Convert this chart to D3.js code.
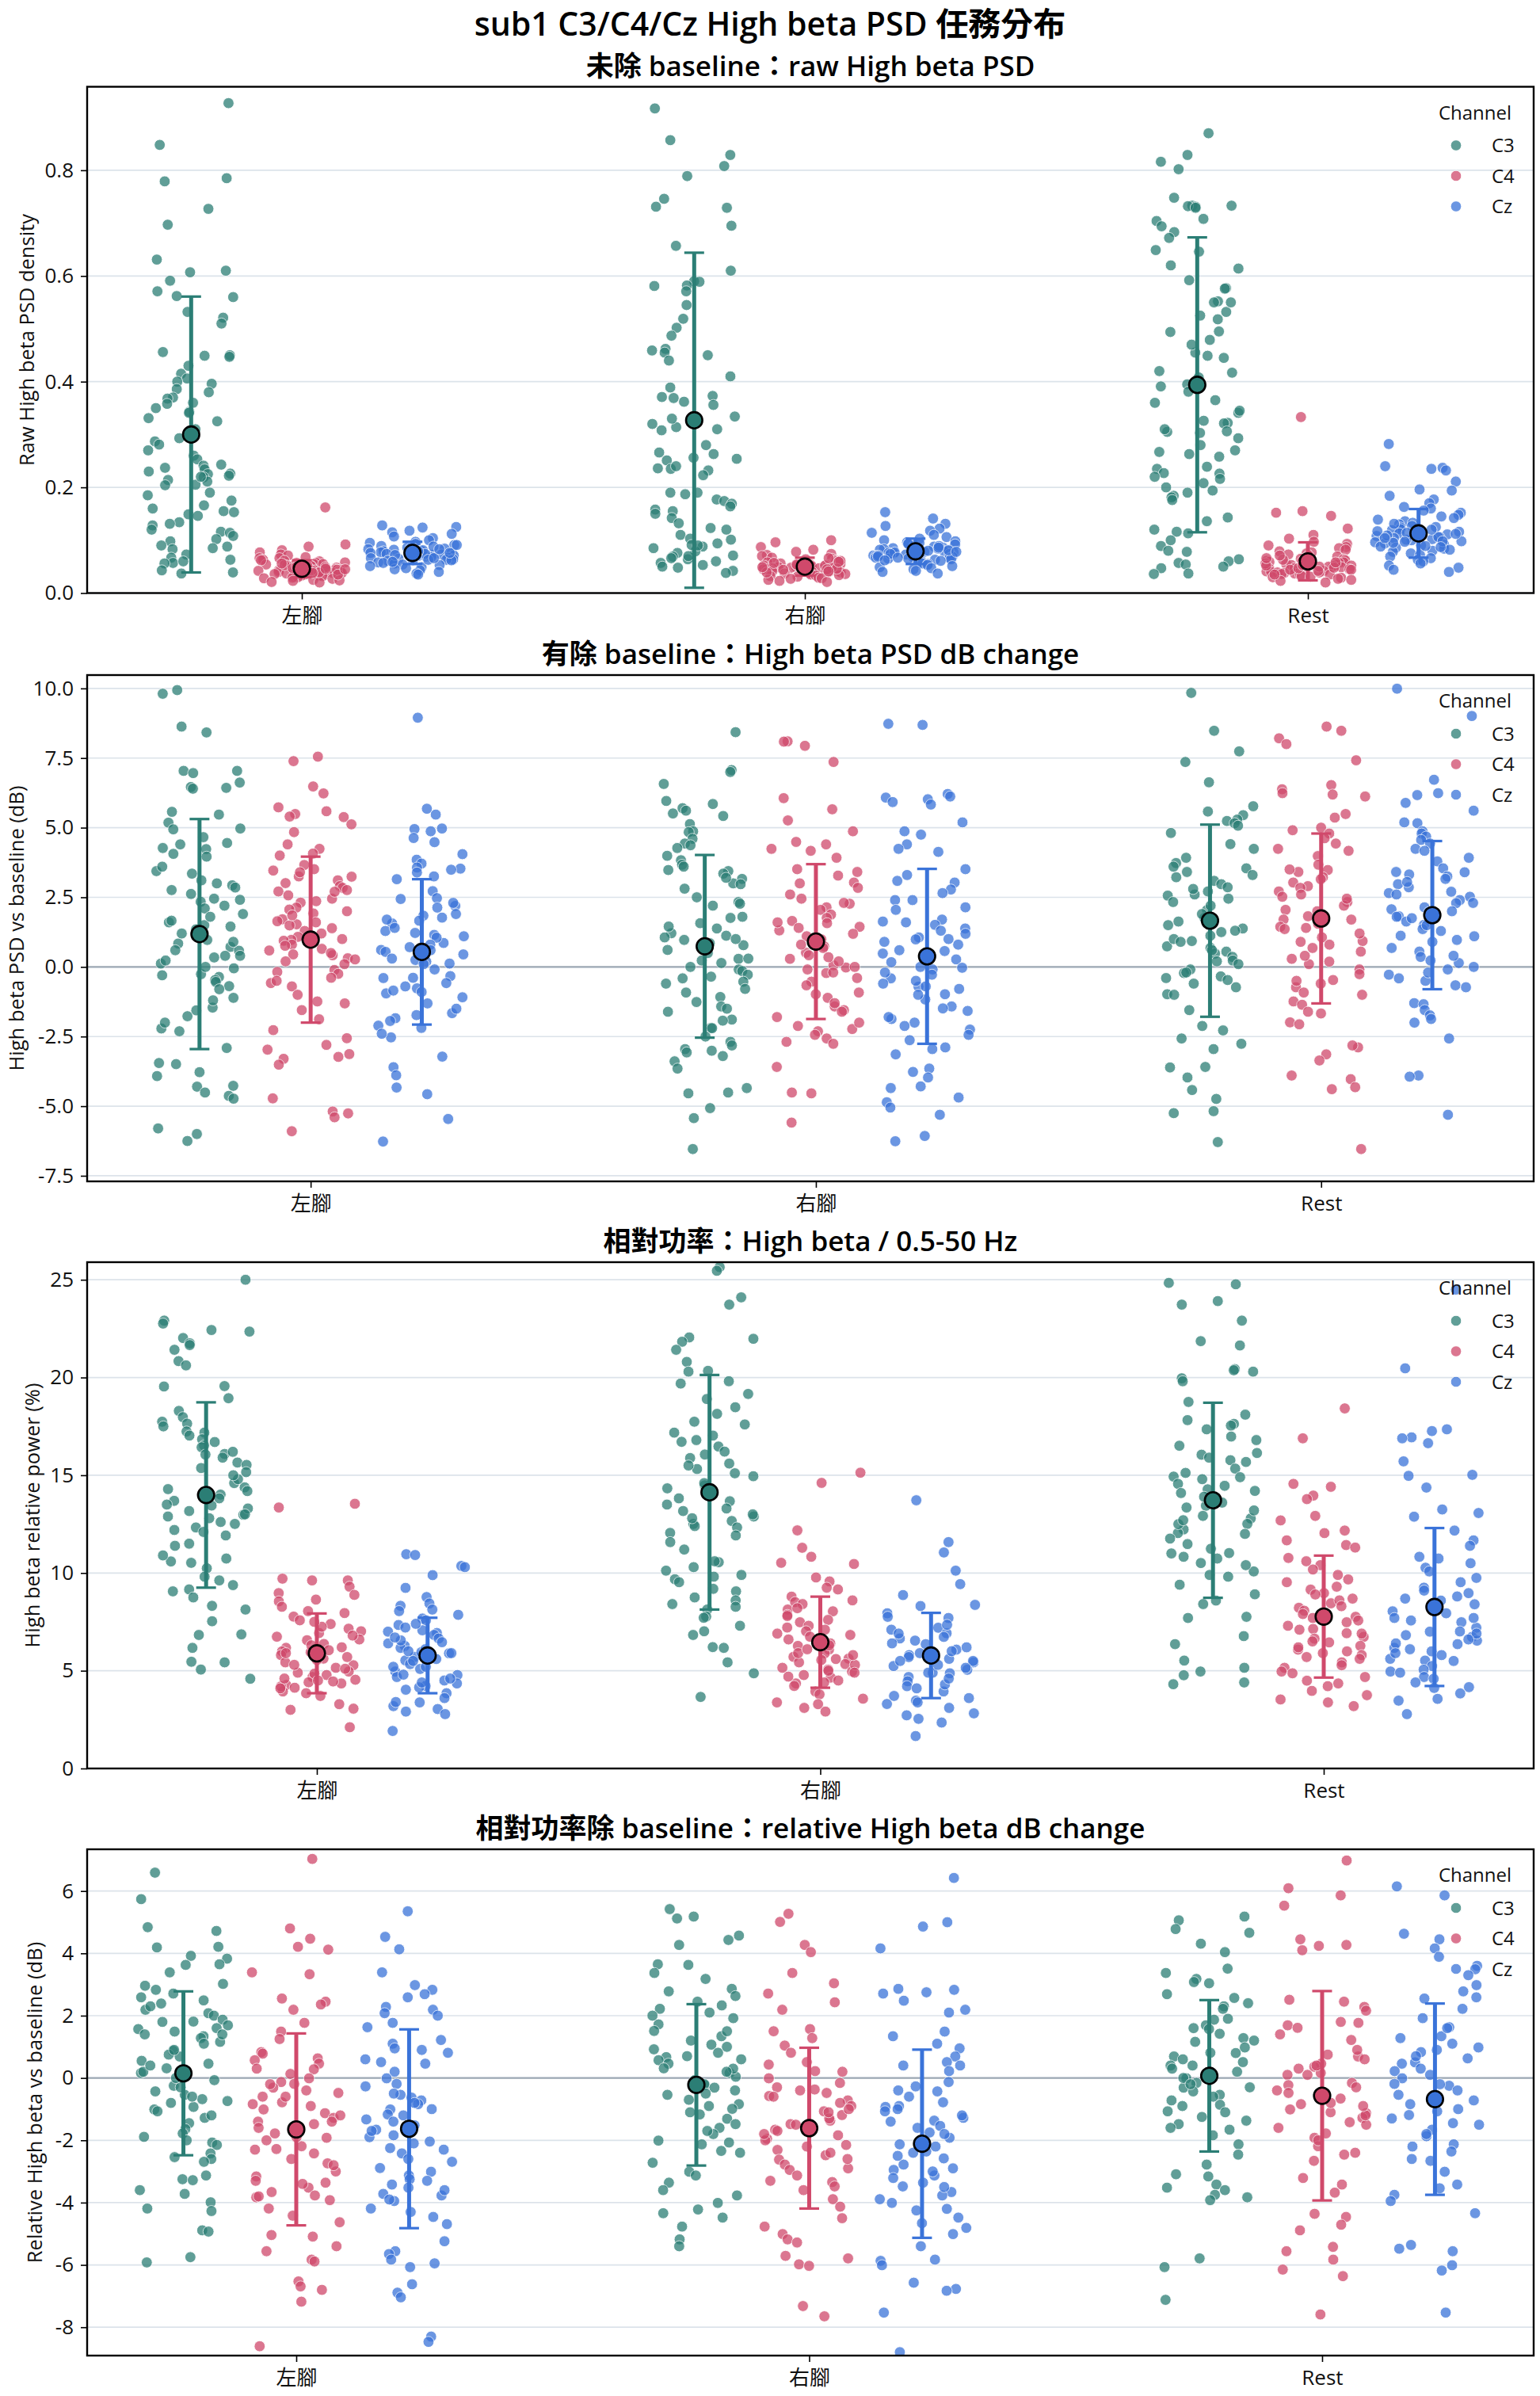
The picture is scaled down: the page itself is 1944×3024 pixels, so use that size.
<!DOCTYPE html>
<html>
<head>
<meta charset="utf-8">
<title>sub1 C3/C4/Cz High beta PSD</title>
<script src="https://d3js.org/d3.v7.min.js"></script>
<style>
body { margin: 0; background: #fff; font-family: "Open Sans", "Noto Sans CJK TC", sans-serif; }
.suptitle { font-size: 41px; font-weight: 600; fill: #000; }
.subtitle { font-size: 35px; font-weight: 600; fill: #000; }
.ylabel { font-size: 25.5px; fill: #111; }
.axis text { font-size: 26px; fill: #111; font-family: "Open Sans", "Noto Sans CJK TC", sans-serif; }
.axis line { stroke: #000; stroke-width: 1.6; }
.legend text { font-size: 24px; fill: #111; }
</style>
</head>
<body>
<div id="chart"></div>
<script>
// ---- categories ----
const conditions = ["左腳", "右腳", "Rest"];
const channels = ["C3", "C4", "Cz"];
const channelColors = ["#2b7e75", "#d0496b", "#3a73d9"];

const mainTitle = "sub1 C3/C4/Cz High beta PSD 任務分布";
const panelTitles = [
  "未除 baseline：raw High beta PSD",
  "有除 baseline：High beta PSD dB change",
  "相對功率：High beta / 0.5-50 Hz",
  "相對功率除 baseline：relative High beta dB change"
];
const yLabels = [
  "Raw High beta PSD density",
  "High beta PSD vs baseline (dB)",
  "High beta relative power (%)",
  "Relative High beta vs baseline (dB)"
];

// ---- tick labels ----
const rawTicks = [0, 0.2, 0.4, 0.6, 0.8];
const dbTicks = [-7.5, -5, -2.5, 0, 2.5, 5, 7.5, 10];
const relTicks = [0, 5, 10, 15, 20, 25];
const relDbTicks = [-8, -6, -4, -2, 0, 2, 4, 6];

// ---- panel 1: raw PSD, each array = [左腳, 右腳, Rest] ----
const rawC3 = [
  [0.927,0.848,0.785,0.779,0.727,0.697,0.631,0.610,0.607,0.591,0.571,0.562,0.560,0.532,0.521,0.510,0.456,0.450,0.449,0.447,0.415,0.406,0.400,0.396,0.386,0.380,0.370,0.368,0.360,0.358,0.343,0.341,0.331,0.325,0.293,0.287,0.281,0.260,0.253,0.243,0.241,0.237,0.234,0.230,0.226,0.225,0.222,0.219,0.214,0.211,0.205,0.204,0.185,0.175,0.166,0.155,0.153,0.149,0.146,0.134,0.131,0.128,0.116,0.114,0.108,0.102,0.098,0.088,0.085,0.083,0.073,0.067,0.063,0.057,0.056,0.043,0.039,0.037,
   0.27,0.31,0.19,0.12,0.35,0.09,0.22,0.16,0.43,0.06],
  [0.917,0.857,0.829,0.808,0.789,0.746,0.731,0.729,0.695,0.657,0.610,0.590,0.589,0.582,0.581,0.571,0.545,0.519,0.502,0.487,0.462,0.459,0.455,0.450,0.440,0.389,0.373,0.371,0.369,0.362,0.356,0.334,0.320,0.314,0.310,0.308,0.266,0.263,0.256,0.254,0.251,0.236,0.235,0.232,0.223,0.190,0.187,0.177,0.174,0.169,0.164,0.158,0.155,0.142,0.132,0.123,0.110,0.103,0.101,0.094,0.088,0.085,0.079,0.076,0.069,0.066,0.060,0.057,0.053,0.042,0.038,0.071,0.064,0.091,0.048,
   0.28,0.12,0.07,0.33,0.19,0.05,0.15,0.41,0.09,0.24],
  [0.870,0.829,0.816,0.802,0.748,0.733,0.733,0.731,0.732,0.729,0.708,0.704,0.694,0.683,0.672,0.649,0.646,0.614,0.592,0.577,0.576,0.552,0.550,0.532,0.525,0.518,0.495,0.494,0.479,0.455,0.449,0.445,0.417,0.408,0.395,0.391,0.381,0.365,0.341,0.345,0.322,0.321,0.326,0.305,0.303,0.306,0.293,0.280,0.267,0.263,0.258,0.239,0.235,0.227,0.226,0.216,0.208,0.200,0.194,0.184,0.181,0.176,0.143,0.136,0.116,0.113,0.100,0.089,0.080,0.078,0.064,0.060,0.057,0.054,0.050,0.047,0.037,0.036,
   0.31,0.42,0.27,0.19,0.55,0.12,0.36,0.47,0.22,0.62]
];
const rawC4 = [
  [0.162,0.092,0.088,0.081,0.077,0.073,0.071,0.068,0.066,0.066,0.063,0.061,0.060,0.058,0.057,0.055,0.055,0.054,0.052,0.051,0.051,0.050,0.049,0.048,0.048,0.047,0.046,0.046,0.045,0.045,0.044,0.043,0.043,0.042,0.042,0.041,0.040,0.040,0.039,0.038,0.038,0.037,0.036,0.036,0.035,0.034,0.033,0.033,0.032,0.031,0.030,0.029,0.028,0.027,0.025,0.024,0.023,0.021,0.020,0.053,0.049,0.044,0.041,0.057,0.035,0.062,0.047,0.039,0.050,0.045,
   0.043,0.051,0.038,0.046,0.056],
  [0.100,0.096,0.087,0.082,0.078,0.074,0.072,0.070,0.067,0.065,0.064,0.062,0.060,0.059,0.058,0.056,0.055,0.054,0.053,0.052,0.051,0.050,0.050,0.049,0.048,0.047,0.047,0.046,0.045,0.044,0.044,0.043,0.042,0.041,0.040,0.040,0.039,0.038,0.037,0.036,0.035,0.034,0.033,0.032,0.031,0.029,0.028,0.027,0.025,0.023,0.021,0.052,0.048,0.057,0.045,0.061,0.043,0.066,0.039,0.053,0.046,0.049,
   0.054,0.044,0.059,0.041,0.050],
  [0.333,0.155,0.152,0.146,0.122,0.110,0.103,0.097,0.093,0.090,0.087,0.085,0.082,0.079,0.077,0.075,0.073,0.071,0.069,0.067,0.065,0.064,0.062,0.061,0.059,0.058,0.057,0.055,0.054,0.053,0.052,0.051,0.050,0.049,0.048,0.047,0.046,0.045,0.044,0.043,0.042,0.041,0.040,0.039,0.038,0.037,0.036,0.035,0.034,0.032,0.031,0.030,0.029,0.027,0.025,0.023,0.020,0.056,0.048,0.063,0.044,0.052,0.039,0.066,0.050,0.058,0.042,
   0.047,0.060,0.035,0.053,0.071]
];
const rawCz = [
  [0.128,0.125,0.124,0.118,0.115,0.112,0.107,0.104,0.100,0.097,0.095,0.093,0.091,0.089,0.087,0.086,0.084,0.083,0.082,0.080,0.079,0.078,0.077,0.076,0.075,0.074,0.073,0.072,0.071,0.070,0.069,0.068,0.067,0.066,0.065,0.064,0.063,0.062,0.061,0.060,0.058,0.057,0.056,0.054,0.053,0.051,0.049,0.047,0.045,0.043,0.040,0.037,0.035,0.081,0.074,0.069,0.088,0.063,0.077,0.072,0.066,0.085,0.059,0.079,
   0.071,0.083,0.062,0.076,0.091],
  [0.153,0.141,0.131,0.127,0.122,0.118,0.114,0.110,0.106,0.103,0.100,0.098,0.096,0.094,0.092,0.090,0.088,0.086,0.085,0.083,0.082,0.080,0.079,0.078,0.077,0.076,0.075,0.074,0.073,0.072,0.071,0.070,0.069,0.068,0.067,0.066,0.065,0.064,0.063,0.061,0.060,0.058,0.056,0.055,0.053,0.051,0.049,0.047,0.045,0.042,0.040,0.037,0.084,0.077,0.071,0.089,0.065,0.081,0.074,0.069,0.093,0.062,
   0.078,0.086,0.067,0.080,0.095],
  [0.282,0.240,0.237,0.235,0.232,0.211,0.196,0.194,0.184,0.177,0.170,0.163,0.160,0.156,0.152,0.148,0.145,0.142,0.139,0.136,0.133,0.130,0.127,0.124,0.121,0.119,0.116,0.113,0.111,0.108,0.106,0.104,0.102,0.100,0.098,0.096,0.094,0.092,0.090,0.088,0.086,0.084,0.082,0.080,0.078,0.075,0.072,0.069,0.066,0.063,0.060,0.056,0.052,0.048,0.044,0.040,0.109,0.101,0.117,0.095,0.125,0.089,0.106,0.131,0.098,0.114,
   0.104,0.120,0.097,0.112,0.087]
];
const rawMean = [[0.300, 0.046, 0.076], [0.327, 0.050, 0.079], [0.394, 0.060, 0.113]];
const rawSd   = [[0.261, 0.016, 0.021], [0.317, 0.017, 0.024], [0.279, 0.036, 0.046]];

// ---- panel 2: dB change ----
const dbC3 = [
  [9.94,9.81,8.63,8.42,7.04,7.04,6.96,6.62,6.46,6.40,6.43,5.57,5.47,5.18,4.97,4.94,4.66,4.45,4.27,4.23,4.06,3.96,3.44,3.35,3.11,2.93,2.85,2.76,2.62,2.45,2.41,2.34,1.60,1.66,1.45,1.35,0.97,0.84,0.72,0.58,0.40,0.34,0.12,0.23,-0.05,-0.26,-0.36,-0.47,-0.54,-0.69,-0.80,-1.11,-1.46,-1.56,-1.77,-2.21,-2.31,-2.91,-3.49,-3.45,-3.78,-3.92,-4.27,-4.30,-4.51,-4.63,-4.73,-5.80,-6.00,-6.25,1.2,2.1,0.6,3.6,4.4,1.9,
   0.9,-0.3,2.2,1.5,-1.2,3.0,0.4,-2.0,1.8,0.0],
  [8.43,7.07,7.00,6.57,5.96,5.85,5.70,5.61,5.51,5.42,5.13,4.87,4.84,4.60,4.43,4.37,4.27,3.99,3.83,3.67,3.60,3.48,3.44,3.35,3.16,3.00,2.97,2.81,2.33,2.27,2.20,1.76,1.57,1.38,1.21,1.12,1.06,0.97,0.78,0.61,0.29,0.23,0.14,-0.09,-0.15,-0.28,-0.41,-0.53,-0.79,-0.92,-1.08,-1.26,-1.42,-1.61,-1.89,-1.93,-2.19,-2.50,-2.69,-2.82,-2.95,-3.01,-3.07,-3.20,-3.39,-3.65,-4.35,-4.51,-4.54,-5.07,-5.43,-6.54,1.45,0.85,-0.35,
   0.5,1.8,-0.6,2.5,-1.5,0.0,1.0,3.2,-2.2,0.3],
  [9.84,8.48,7.74,7.36,6.63,5.77,5.58,5.45,5.29,5.24,5.16,5.07,4.81,4.41,4.24,3.92,3.73,3.54,3.41,3.22,3.09,2.97,2.86,2.71,2.56,2.45,2.33,2.04,1.76,1.63,1.57,1.38,1.12,0.93,0.74,0.68,0.55,0.48,0.36,0.23,0.10,-0.09,-0.22,-0.34,-0.47,-0.60,-0.73,-0.98,-1.55,-2.12,-2.28,-2.57,-2.76,-2.95,-3.59,-3.61,-3.97,-4.42,-4.74,-5.18,-5.25,-6.29,1.9,2.6,0.2,3.3,-0.4,1.25,
   1.0,0.6,2.2,1.5,-0.2,3.6,0.9,-1.0,2.8,1.3]
];
const dbC4 = [
  [7.55,7.39,6.48,6.23,5.73,5.59,5.49,5.40,5.38,5.12,4.84,4.40,4.24,4.07,4.00,3.66,3.51,3.46,3.25,3.24,3.11,3.01,2.90,2.84,2.76,2.71,2.57,2.36,2.31,2.13,2.06,1.92,1.71,1.64,1.53,1.49,1.39,1.29,1.08,0.97,0.94,0.80,0.76,0.59,0.45,0.42,0.31,0.27,0.10,-0.11,-0.18,-0.25,-0.39,-0.58,-0.70,-1.24,-1.31,-1.55,-1.88,-2.27,-2.56,-2.80,-2.97,-3.13,-3.23,-3.30,-3.51,-4.72,-5.19,-5.26,-5.40,-5.90,1.85,2.45,0.65,
   1.2,0.5,2.0,-0.5,1.6,0.2,2.7,-1.0,1.0,3.4],
  [8.10,8.09,7.94,7.36,6.06,5.66,5.26,4.87,4.49,4.40,4.24,4.17,3.92,3.51,3.41,3.28,3.03,2.84,2.45,2.27,2.14,2.05,1.88,1.76,1.57,1.44,1.31,1.19,0.99,0.74,0.68,0.51,0.42,0.29,0.06,-0.02,-0.09,-0.22,-0.53,-0.66,-0.92,-0.98,-1.11,-1.42,-1.55,-1.61,-1.80,-2.12,-2.23,-2.31,-2.44,-2.57,-2.69,-2.76,-3.59,-4.51,-4.54,-5.59,1.65,0.35,2.6,1.1,-0.4,
   0.8,1.6,-0.2,2.3,0.2,-1.3,1.4,3.0,0.0,-2.0],
  [8.63,8.48,8.21,8.00,7.42,6.53,6.38,6.24,6.19,6.12,5.49,5.36,5.00,4.91,4.79,4.62,4.43,4.24,4.17,3.98,3.67,3.48,3.41,3.22,3.03,2.90,2.84,2.71,2.52,2.33,2.20,2.05,1.82,1.70,1.44,1.36,1.06,0.93,0.68,0.55,0.29,0.19,0.10,-0.09,-0.26,-0.47,-0.60,-0.73,-0.92,-1.24,-1.36,-1.61,-1.67,-1.99,-2.06,-2.89,-2.82,-3.14,-3.36,-3.90,-4.03,-4.32,-4.39,-6.54,1.55,2.45,0.8,3.15,
   1.2,2.0,0.4,2.6,1.7,-0.5,3.5,0.9,1.4,-1.0]
];
const dbCz = [
  [8.95,5.68,5.47,4.97,4.95,4.87,4.63,4.48,4.05,3.85,3.71,3.57,3.53,3.49,3.39,3.25,3.15,2.72,2.47,2.44,2.19,2.13,1.84,1.77,1.66,1.56,1.29,1.22,1.15,1.10,0.86,0.71,0.61,0.54,0.30,0.19,0.12,-0.09,-0.33,-0.39,-0.58,-0.70,-0.77,-0.95,-1.09,-1.31,-1.66,-1.73,-1.84,-1.94,-2.11,-2.19,-2.53,-3.22,-3.60,-3.89,-4.33,-4.57,-5.46,-6.27,1.05,0.45,-0.85,1.9,0.25,
   0.8,-0.4,1.4,0.1,-1.5,2.3,0.6,-0.9,1.7,-2.4],
  [8.69,8.73,6.21,6.12,6.08,6.02,5.92,5.83,5.19,4.87,4.75,4.40,4.24,4.13,3.51,3.09,3.03,2.78,2.65,2.40,2.14,2.05,1.70,1.63,1.51,1.38,1.19,1.06,0.99,0.80,0.57,0.48,0.27,0.17,-0.03,-0.09,-0.28,-0.41,-0.60,-0.71,-0.79,-0.98,-1.17,-1.42,-1.49,-1.58,-1.87,-2.00,-2.12,-2.25,-2.44,-2.63,-2.89,-2.95,-3.14,-3.65,-3.77,-3.97,-4.29,-4.35,-4.69,-4.86,-5.05,-5.31,-6.07,-6.26,0.9,1.3,-0.5,
   0.6,-0.2,1.6,-1.0,2.4,0.0,-1.8,1.0,3.3,-0.7],
  [9.99,9.01,6.72,6.24,6.17,5.89,5.61,5.19,5.16,4.87,4.79,4.68,4.56,4.43,4.24,4.17,3.92,3.79,3.54,3.41,3.32,3.25,3.16,2.97,2.86,2.65,2.52,2.40,2.29,2.14,2.07,1.97,1.82,1.63,1.51,1.36,1.29,1.12,0.97,0.68,0.55,0.36,0.23,0.14,-0.09,-0.28,-0.41,-0.66,-0.73,-1.30,-1.34,-1.55,-1.74,-1.87,-2.00,-2.57,-3.90,-3.94,-5.31,2.7,1.75,3.05,0.4,-0.5,
   1.5,2.0,0.9,2.6,1.8,-0.2,3.4,1.1,2.3,0.0]
];
const dbMean = [[1.18, 0.98, 0.54], [0.74, 0.91, 0.38], [1.66, 1.74, 1.86]];
const dbSd   = [[4.13, 2.98, 2.61], [3.28, 2.78, 3.14], [3.45, 3.05, 2.66]];

// ---- panel 3: relative power (%) ----
const relC3 = [
  [25.0,22.91,22.76,22.43,22.35,22.02,21.75,21.66,21.42,20.84,20.62,19.56,19.54,18.94,18.29,17.97,17.74,17.64,17.24,17.18,17.03,16.84,16.52,16.43,16.09,16.06,15.65,15.53,15.37,15.16,14.38,14.29,14.19,14.01,13.82,13.69,13.45,13.17,12.98,12.89,12.61,12.51,12.33,11.92,11.39,10.74,10.59,10.52,10.24,9.81,9.62,9.38,9.16,9.06,8.75,8.32,8.13,7.53,6.86,6.83,6.17,5.46,5.43,5.06,4.59,14.6,13.3,15.9,12.1,16.7,
   13.5,14.8,12.8,16.2,11.5,15.0,10.9,13.0,17.5,12.2],
  [25.65,25.46,24.10,23.73,22.05,21.98,21.83,21.42,20.80,20.34,20.30,19.16,19.69,19.81,18.48,18.14,17.74,17.60,17.18,17.03,16.71,16.47,16.21,16.06,15.88,15.60,15.32,14.95,14.48,14.33,13.82,13.67,13.30,13.17,12.89,12.66,12.51,12.33,12.05,11.92,11.58,10.55,10.30,10.12,9.81,9.68,9.53,9.19,9.06,8.75,8.60,8.41,8.27,8.13,7.77,7.71,7.30,7.02,6.83,6.21,6.17,5.43,4.87,3.66,14.1,15.1,12.4,
   13.0,15.5,11.2,16.8,12.8,10.6,14.6,9.9,18.9,13.5],
  [24.84,24.77,23.91,23.73,22.91,21.86,21.64,20.43,20.37,20.30,19.96,19.81,18.75,18.10,17.82,17.63,17.54,17.35,16.98,16.51,16.14,16.05,15.77,15.68,15.34,15.12,14.93,14.56,14.46,14.28,14.09,13.44,13.35,12.92,12.79,12.51,12.23,12.04,11.76,11.48,11.24,11.02,10.83,10.74,10.51,10.08,9.90,9.81,9.40,8.91,8.59,8.41,7.76,7.70,6.77,6.36,5.52,5.15,4.96,4.77,4.40,4.31,13.9,14.8,12.5,
   13.2,14.2,12.0,15.9,11.0,16.8,13.6,10.4,14.9,12.7]
];
const relC4 = [
  [13.54,13.35,9.62,9.62,9.71,9.30,8.97,8.88,8.64,8.55,8.27,8.05,7.95,7.77,7.58,7.39,7.15,7.02,6.93,6.74,6.56,6.37,6.17,5.99,5.80,5.62,5.43,5.28,5.15,4.96,4.78,4.68,4.54,4.41,4.27,4.13,3.94,3.71,3.29,3.06,3.00,2.11,6.05,5.55,4.85,4.35,5.95,4.2,6.6,5.1,4.45,3.85,7.25,4.6,
   5.7,6.3,4.9,5.3,6.8,4.5,5.9,7.5,4.1,6.2],
  [15.13,14.61,12.18,11.29,10.83,10.52,10.46,9.77,9.57,9.25,9.16,8.79,8.60,8.51,8.41,8.13,8.04,7.86,7.48,7.30,7.21,7.02,6.83,6.74,6.56,6.27,6.08,5.89,5.71,5.62,5.43,5.34,5.15,5.06,4.96,4.78,4.65,4.50,4.35,4.22,3.94,3.79,3.57,3.38,3.29,3.10,2.91,6.4,5.9,5.3,6.9,4.9,5.55,7.6,4.4,
   6.1,6.6,5.8,7.1,5.0,6.3,8.2,4.7,5.6,7.8],
  [18.42,16.89,14.56,14.41,13.96,13.78,12.92,12.69,12.17,12.04,11.67,11.43,11.30,10.77,10.40,10.18,9.67,9.53,9.15,8.97,8.69,8.45,8.22,8.07,7.76,7.57,7.48,7.14,6.92,6.73,6.64,6.45,6.27,6.08,5.99,5.80,5.61,5.43,5.28,5.15,4.96,4.87,4.68,4.49,4.35,4.21,3.97,3.75,3.53,3.38,3.19,7.9,8.6,6.5,9.9,5.7,
   7.3,8.3,6.9,7.7,9.3,5.9,8.9,6.2,10.6,7.1]
];
const relCz = [
  [10.96,10.92,10.36,10.30,9.89,9.24,8.77,8.44,8.32,8.13,8.05,7.86,7.67,7.58,7.34,7.21,7.07,6.93,6.83,6.65,6.46,6.27,6.17,5.89,5.71,5.53,5.34,5.09,4.96,4.78,4.68,4.50,4.35,4.22,4.03,3.85,3.60,3.38,3.19,3.04,2.91,2.78,1.92,6.55,5.95,5.2,4.6,7.0,5.6,6.1,4.15,
   5.5,6.4,4.8,5.9,7.4,4.4,6.7,5.2,3.4,6.0],
  [13.72,11.58,11.05,10.12,9.43,8.87,8.37,8.31,7.94,7.76,7.70,7.20,7.10,6.92,6.73,6.54,6.36,6.08,5.80,5.61,5.43,5.24,5.05,4.87,4.68,4.46,4.21,3.94,3.71,3.47,3.38,3.10,2.82,2.72,2.54,2.35,1.66,6.2,5.5,4.9,5.7,6.65,4.3,5.15,3.6,7.35,
   5.3,6.0,4.6,5.9,6.9,4.1,5.5,3.3,6.4,4.9],
  [24.5,20.47,17.35,17.26,16.94,16.89,16.64,15.71,15.02,14.97,14.37,13.25,13.07,12.88,12.17,11.67,11.39,10.83,10.74,10.27,10.08,9.75,9.53,9.25,8.97,8.69,8.59,8.04,7.94,7.57,7.48,7.20,7.01,6.82,6.73,6.54,6.36,6.17,5.99,5.80,5.61,5.52,5.24,5.05,4.96,4.68,4.59,4.40,4.16,4.12,3.84,3.56,3.47,2.78,7.7,6.9,6.4,5.9,
   7.0,8.4,6.1,9.1,5.5,10.5,7.7,6.6,4.9,8.8]
];
const relMean = [[13.99, 5.89, 5.78], [14.13, 6.46, 5.78], [13.72, 7.77, 8.26]];
const relSd   = [[4.74, 2.04, 1.93], [6.00, 2.33, 2.18], [4.99, 3.12, 4.04]];

// ---- panel 4: relative power dB change ----
const relDbC3 = [
  [6.59,5.74,4.72,4.84,4.21,4.19,3.92,3.83,3.65,3.63,3.39,3.02,2.96,2.83,2.71,2.59,2.49,2.39,2.19,2.08,2.00,1.87,1.81,1.69,1.57,1.49,1.40,1.34,1.28,1.16,0.87,0.75,0.69,0.55,0.46,0.31,0.16,-0.01,-0.07,-0.25,-0.43,-0.54,-0.68,-0.74,-0.93,-1.01,-1.07,-1.28,-1.45,-1.64,-1.78,-1.89,-2.07,-2.15,-2.42,-2.54,-2.60,-2.69,-3.13,-3.25,-3.28,-3.60,-3.72,-3.99,-4.19,-4.27,-4.89,-4.93,-5.75,-5.92,1.6,0.2,1.1,-0.6,
   0.9,-0.3,1.8,0.4,-1.2,2.3,0.0,-0.8,1.4,-2.0],
  [5.42,5.18,5.12,4.57,4.43,4.27,3.65,3.63,3.37,3.18,2.86,2.78,2.63,2.45,2.33,2.22,2.10,1.92,1.72,1.51,1.34,1.07,0.92,0.81,0.67,0.57,0.46,0.31,0.16,0.04,-0.07,-0.23,-0.31,-0.54,-0.70,-0.84,-0.99,-1.17,-1.31,-1.48,-1.60,-1.80,-2.01,-2.07,-2.13,-2.34,-2.72,-3.01,-3.13,-3.36,-3.60,-3.77,-4.01,-4.22,-4.34,-4.48,-4.77,-5.18,-5.40,0.3,-0.4,1.2,-1.1,0.7,
   -0.2,0.6,-0.9,1.5,-1.7,0.2,-0.5,1.0,-2.4,2.0],
  [5.18,5.06,4.78,4.66,4.31,4.04,3.51,3.37,3.18,3.08,3.04,2.69,2.57,2.30,2.22,1.87,1.69,1.57,1.42,1.28,1.16,0.98,0.81,0.69,0.51,0.40,0.10,-0.01,-0.16,-0.31,-0.43,-0.54,-0.72,-0.86,-1.07,-1.25,-1.37,-1.48,-1.66,-1.84,-2.13,-2.46,-2.78,-3.09,-3.16,-3.42,-3.52,-3.60,-3.75,-3.83,-3.92,-5.79,-6.07,-7.12,0.3,-0.3,0.6,1.9,-0.9,0.0,
   0.4,-0.6,1.2,0.2,-1.1,1.6,-0.2,0.8,-1.6,2.4]
];
const relDbC4 = [
  [7.03,4.80,4.47,4.21,4.12,3.39,3.33,2.55,2.45,2.36,2.19,1.77,1.49,1.25,0.83,0.78,0.63,0.57,0.46,0.28,0.13,-0.01,-0.13,-0.19,-0.31,-0.48,-0.60,-0.78,-0.84,-1.01,-1.13,-1.28,-1.40,-1.48,-1.78,-1.92,-2.19,-2.28,-2.42,-2.74,-3.16,-3.30,-3.36,-3.52,-3.66,-3.77,-3.83,-3.92,-4.19,-4.42,-4.63,-5.04,-5.09,-5.40,-5.56,-5.83,-5.89,-6.53,-6.69,-6.80,-7.18,-8.61,-0.9,-2.0,-0.4,-1.6,-3.4,-2.6,
   -1.2,-2.3,-0.6,-1.9,-3.0,0.3,-1.4,-2.8,-0.2,-3.8],
  [5.27,5.01,4.27,4.04,3.37,3.04,2.71,2.43,2.19,1.57,1.28,1.04,0.81,0.51,0.43,0.22,-0.01,-0.16,-0.37,-0.48,-0.58,-0.72,-0.90,-1.07,-1.19,-1.37,-1.48,-1.66,-1.84,-1.95,-2.15,-2.31,-2.48,-2.62,-2.78,-2.95,-3.13,-3.34,-3.48,-3.60,-3.89,-4.13,-4.50,-4.77,-5.01,-5.18,-5.28,-5.71,-5.79,-5.98,-6.03,-7.32,-7.65,-1.0,-1.5,-0.3,-2.2,-0.8,-1.7,1.5,-2.9,
   -1.3,-2.0,-0.6,-1.8,-2.6,0.2,-1.1,-3.3,-0.4,-2.4],
  [6.98,6.09,5.86,5.53,4.45,4.27,4.24,4.10,2.51,2.45,2.28,2.16,1.77,1.69,1.61,1.22,0.75,0.69,0.46,0.36,0.16,0.10,-0.16,-0.23,-0.48,-0.66,-0.84,-1.01,-1.13,-1.28,-1.42,-1.60,-1.78,-1.92,-2.19,-2.46,-2.66,-3.21,-3.42,-3.68,-4.36,-4.46,-4.71,-4.89,-5.42,-5.56,-5.83,-6.15,-6.36,-7.59,-0.4,0.9,-1.1,0.4,1.4,-2.0,
   -0.8,0.1,-1.5,0.6,-0.3,1.8,-2.4,-1.2,0.3,-0.9]
];
const relDbCz = [
  [5.35,4.53,4.13,3.39,2.98,2.83,2.69,2.59,2.28,2.19,2.08,2.00,1.77,1.63,1.22,1.10,0.95,0.81,0.51,0.46,0.20,-0.01,-0.19,-0.27,-0.54,-0.63,-0.72,-0.84,-1.01,-1.17,-1.33,-1.52,-1.66,-1.84,-2.04,-2.25,-2.42,-2.69,-2.89,-3.01,-3.13,-3.25,-3.42,-3.52,-3.72,-3.77,-3.95,-4.19,-4.30,-4.46,-4.69,-5.24,-5.56,-5.65,-5.83,-5.95,-6.07,-6.62,-6.89,-7.04,-8.30,-8.47,-1.4,-0.8,-2.1,-3.6,-1.9,
   -1.0,-2.3,-0.5,-1.7,-3.3,0.6,-2.6,-1.2,0.9,-3.9],
  [6.42,5.00,4.86,4.16,2.86,2.83,2.75,2.71,2.48,2.19,2.10,1.49,1.34,1.10,0.95,0.69,0.51,0.40,0.22,-0.13,-0.27,-0.43,-0.60,-0.78,-0.93,-1.07,-1.28,-1.37,-1.54,-1.75,-1.92,-2.13,-2.36,-2.58,-2.78,-2.95,-3.13,-3.21,-3.36,-3.48,-3.66,-3.77,-3.89,-4.01,-4.25,-4.48,-4.66,-4.81,-5.01,-5.40,-5.83,-5.87,-6.01,-6.57,-6.77,-6.83,-7.53,-8.80,-1.2,-2.5,-0.9,-1.6,-3.0,
   -1.8,-2.4,-1.0,-2.9,-3.5,-0.4,-2.2,-1.4,0.4,-4.2],
  [6.15,5.86,4.63,4.45,4.16,3.89,3.60,3.49,3.30,2.98,2.78,2.59,2.55,2.22,1.92,1.63,1.34,1.28,0.98,0.83,0.63,0.46,0.22,-0.01,-0.19,-0.25,-0.54,-0.72,-0.84,-1.07,-1.19,-1.45,-1.66,-1.87,-2.13,-2.36,-2.66,-3.01,-3.42,-3.54,-3.75,-3.95,-4.34,-5.36,-5.48,-5.56,-6.01,-6.18,-7.53,0.5,-0.4,1.1,-1.3,-2.2,0.1,
   -0.6,0.3,-1.5,0.7,-1.0,1.6,-2.6,-0.2,0.9,-1.8]
];
const relDbMean = [[0.15, -1.65, -1.63], [-0.22, -1.61, -2.11], [0.07, -0.57, -0.68]];
const relDbSd   = [[2.63, 3.08, 3.19], [2.59, 2.58, 3.02], [2.43, 3.36, 3.07]];

// ---- layout ----
const W = 1944, H = 3024;
const plotLeft = 110, plotRight = 1936, plotH = 639;
const hueOffset = [-0.22, 0, 0.22];
const jitterHalf = 0.088;

const panels = [
  { top: 109.5, series: [rawC3, rawC4, rawCz], mean: rawMean, sd: rawSd, ticks: rawTicks, fmt: ".1f",
    ylim: [0, 0.958], xlim: [-0.4268, 2.4488], zero: false, ylabelX: 33 },
  { top: 852, series: [dbC3, dbC4, dbCz], mean: dbMean, sd: dbSd, ticks: dbTicks, fmt: ".1f",
    ylim: [-7.7, 10.48], xlim: [-0.4424, 2.4206], zero: true, ylabelX: 20 },
  { top: 1593, series: [relC3, relC4, relCz], mean: relMean, sd: relSd, ticks: relTicks, fmt: "d",
    ylim: [0, 25.9], xlim: [-0.4563, 2.4170], zero: false, ylabelX: 40 },
  { top: 2334, series: [relDbC3, relDbC4, relDbCz], mean: relDbMean, sd: relDbSd, ticks: relDbTicks, fmt: "d",
    ylim: [-8.91, 7.34], xlim: [-0.4077, 2.4124], zero: true, ylabelX: 43 }
];

// seeded jitter so the strip looks like seaborn's
function jitter(pi, ci, k, j) {
  const s = Math.sin((pi * 1009 + ci * 331 + k * 97 + j * 7.13 + 1) * 12.9898) * 43758.5453;
  return (s - Math.floor(s) - 0.5) * 2 * jitterHalf;
}

const svg = d3.select("#chart").append("svg")
  .attr("width", W).attr("height", H);
svg.append("rect").attr("width", W).attr("height", H).attr("fill", "#fff");

svg.append("text").attr("class", "suptitle")
  .attr("x", 972).attr("y", 45).attr("text-anchor", "middle")
  .text(mainTitle);

panels.forEach(function(p, pi) {
  const g = svg.append("g").attr("transform", "translate(0," + p.top + ")");
  const y = d3.scaleLinear().domain(p.ylim).range([plotH, 0]);
  const x = d3.scaleLinear().domain(p.xlim).range([plotLeft, plotRight]);
  const fmt = d3.format(p.fmt);

  g.append("clipPath").attr("id", "clip" + pi)
    .append("rect").attr("x", plotLeft).attr("y", 0)
    .attr("width", plotRight - plotLeft).attr("height", plotH);

  // grid
  g.append("g").selectAll("line").data(p.ticks).join("line")
    .attr("x1", plotLeft).attr("x2", plotRight)
    .attr("y1", d => y(d)).attr("y2", d => y(d))
    .attr("stroke", "#dce3ea").attr("stroke-width", 1.7);
  if (p.zero) {
    g.append("line")
      .attr("x1", plotLeft).attr("x2", plotRight)
      .attr("y1", y(0)).attr("y2", y(0))
      .attr("stroke", "#9ea9b5").attr("stroke-width", 2.4);
  }

  // strip points
  const pts = g.append("g").attr("clip-path", "url(#clip" + pi + ")");
  channels.forEach(function(ch, ci) {
    conditions.forEach(function(cond, k) {
      pts.append("g").selectAll("circle").data(p.series[ci][k]).join("circle")
        .attr("cx", (d, j) => x(k + hueOffset[ci] + jitter(pi, ci, k, j)))
        .attr("cy", d => y(d))
        .attr("r", 6.9)
        .attr("fill", channelColors[ci])
        .attr("stroke", "#fff").attr("stroke-width", 0.9)
        .attr("opacity", 0.75);
    });
  });

  // mean ± sd
  const eb = g.append("g");
  channels.forEach(function(ch, ci) {
    conditions.forEach(function(cond, k) {
      const m = p.mean[k][ci], s = p.sd[k][ci];
      const cx = x(k + hueOffset[ci]);
      eb.append("line").attr("x1", cx).attr("x2", cx)
        .attr("y1", y(m - s)).attr("y2", y(m + s))
        .attr("stroke", channelColors[ci]).attr("stroke-width", 5);
      [m - s, m + s].forEach(function(v) {
        eb.append("line").attr("x1", cx - 12.5).attr("x2", cx + 12.5)
          .attr("y1", y(v)).attr("y2", y(v))
          .attr("stroke", channelColors[ci]).attr("stroke-width", 3.2);
      });
      eb.append("circle").attr("cx", cx).attr("cy", y(m)).attr("r", 10.3)
        .attr("fill", channelColors[ci])
        .attr("stroke", "#000").attr("stroke-width", 2.6);
    });
  });

  // frame
  g.append("rect").attr("x", plotLeft).attr("y", 0)
    .attr("width", plotRight - plotLeft).attr("height", plotH)
    .attr("fill", "none").attr("stroke", "#000").attr("stroke-width", 2.4);

  // axes
  g.append("g").attr("class", "axis")
    .attr("transform", "translate(" + plotLeft + ",0)")
    .call(d3.axisLeft(y).tickValues(p.ticks)
      .tickFormat(d => fmt(d).replace("\u2212", "-"))
      .tickSize(8).tickPadding(9))
    .call(a => a.select(".domain").remove());
  g.append("g").attr("class", "axis")
    .attr("transform", "translate(0," + plotH + ")")
    .call(d3.axisBottom(x).tickValues([0, 1, 2])
      .tickFormat(i => conditions[i]).tickSize(8).tickPadding(11))
    .call(a => a.select(".domain").remove());

  // labels
  g.append("text").attr("class", "subtitle")
    .attr("x", (plotLeft + plotRight) / 2).attr("y", -14)
    .attr("text-anchor", "middle").text(panelTitles[pi]);
  g.append("text").attr("class", "ylabel")
    .attr("transform", "translate(" + p.ylabelX + "," + (plotH / 2) + ") rotate(-90)")
    .attr("text-anchor", "middle").attr("dominant-baseline", "central")
    .text(yLabels[pi]);

  // legend
  const lg = g.append("g").attr("class", "legend");
  lg.append("text").attr("x", 1862).attr("y", 41).attr("text-anchor", "middle").text("Channel");
  channels.forEach(function(ch, ci) {
    const ly = 74 + ci * 38.5;
    lg.append("circle").attr("cx", 1838).attr("cy", ly).attr("r", 6.8)
      .attr("fill", channelColors[ci]).attr("opacity", 0.75)
      .attr("stroke", "#fff").attr("stroke-width", 0.9);
    lg.append("text").attr("x", 1883).attr("y", ly + 8.5).text(ch);
  });
});
</script>
</body>
</html>
